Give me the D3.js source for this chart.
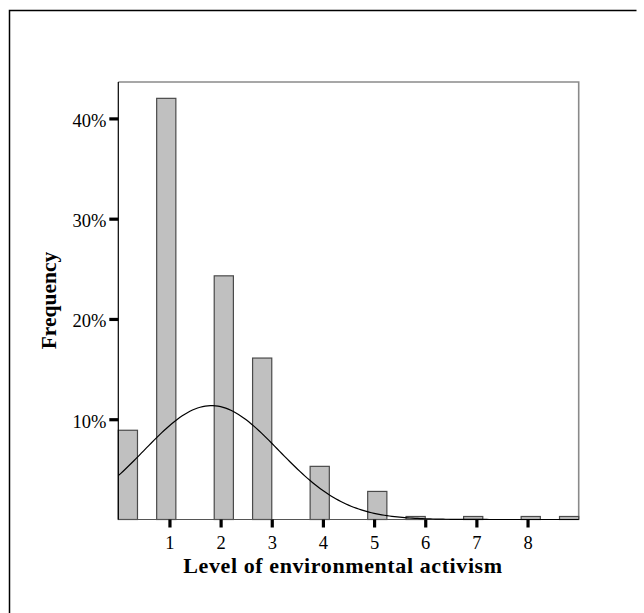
<!DOCTYPE html>
<html>
<head>
<meta charset="utf-8">
<script src="https://cdn.jsdelivr.net/npm/d3@7"></script>
<style>
  html, body { margin: 0; padding: 0; background: #fff; }
  svg { display: block; }
  text { font-family: "Liberation Serif", "Times New Roman", serif; fill: #000; }
</style>
</head>
<body>
<svg id="chart" width="644" height="613"></svg>
<script>
// Level of environmental activism (0-9) and share of respondents (%)
const levels   = [0, 1, 2, 3, 4, 5, 6, 7, 8, 9];
const percents = [8.9, 42.0, 24.3, 16.1, 5.3, 2.8, 0.3, 0.3, 0.3, 0.3];
// Histogram bins: lower edge of the bin holding each level, common bin width
const binLow   = [0, 0.75, 1.875, 2.625, 3.75, 4.875, 5.625, 6.75, 7.875, 8.625];
const binWidth = 0.375;
const xTicks   = [1, 2, 3, 4, 5, 6, 7, 8];
const yTicks   = [10, 20, 30, 40];

const svg = d3.select("#chart");

const plot = { left: 118.3, right: 578.7, top: 82, bottom: 519.5 };

const x = d3.scaleLinear().domain([0, 9]).range([plot.left, plot.right]);
const y = d3.scaleLinear().domain([0, 40]).range([plot.bottom, 118.4]);

// outer frame (top and left edges)
svg.append("path")
  .attr("d", `M9.5,613 V10.5 H636.5`)
  .attr("fill", "none").attr("stroke", "#000").attr("stroke-width", 1.5);

// plot frame (top and right in grey)
svg.append("path")
  .attr("d", `M${plot.left},${plot.top} H${plot.right} V${plot.bottom}`)
  .attr("fill", "none").attr("stroke", "#8a8a8a").attr("stroke-width", 1.6);

// bars
const bars = levels.map((lv, i) => ({ lv, pct: percents[i], x0: binLow[i], x1: binLow[i] + binWidth }));
svg.append("g").selectAll("rect").data(bars).join("rect")
  .attr("x", d => x(d.x0))
  .attr("y", d => y(d.pct))
  .attr("width", d => x(d.x1) - x(d.x0))
  .attr("height", d => y(0) - y(d.pct))
  .attr("fill", "#c0c0c0")
  .attr("stroke", "#4a4a4a")
  .attr("stroke-width", 1.2);

// baseline
svg.append("line")
  .attr("x1", plot.left).attr("x2", plot.right)
  .attr("y1", plot.bottom).attr("y2", plot.bottom)
  .attr("stroke", "#555").attr("stroke-width", 1.2);

// fitted normal curve from the sample mean and standard deviation
const total = d3.sum(percents);
const mean = d3.sum(levels, (v, i) => v * percents[i]) / total;
const sd = Math.sqrt(d3.sum(levels, (v, i) => (v - mean) ** 2 * percents[i]) / total);
const density = v => binWidth * 100 * Math.exp(-((v - mean) ** 2) / (2 * sd * sd)) / (sd * Math.sqrt(2 * Math.PI));
const curveX = d3.range(0, 9.0001, 0.05);
svg.append("path")
  .datum(curveX)
  .attr("d", d3.line().x(v => x(v)).y(v => y(density(v))))
  .attr("fill", "none").attr("stroke", "#000").attr("stroke-width", 1.2);

// y axis
const yAxis = svg.append("g")
  .attr("transform", `translate(${plot.left},0)`)
  .call(d3.axisLeft(y).tickValues(yTicks).tickSize(9).tickPadding(3).tickFormat(d => d + "%"));
yAxis.select(".domain").remove();
svg.append("line")
  .attr("x1", plot.left).attr("x2", plot.left)
  .attr("y1", plot.top).attr("y2", plot.bottom)
  .attr("stroke", "#000").attr("stroke-width", 1.2);
yAxis.selectAll(".tick line").attr("stroke", "#000").attr("stroke-width", 3.2);
yAxis.selectAll(".tick text")
  .style("font-family", "'Liberation Serif', 'Times New Roman', serif")
  .style("font-size", "18.5px").attr("dy", "0.42em");

// x axis
const xAxis = svg.append("g")
  .attr("transform", `translate(0,${plot.bottom})`)
  .call(d3.axisBottom(x).tickValues(xTicks).tickSize(8).tickPadding(8).tickFormat(d3.format("d")));
xAxis.select(".domain").remove();
xAxis.selectAll(".tick line").attr("stroke", "#000").attr("stroke-width", 3.2);
xAxis.selectAll(".tick text")
  .style("font-family", "'Liberation Serif', 'Times New Roman', serif")
  .style("font-size", "18.5px");

// axis titles
svg.append("text")
  .attr("x", 343).attr("y", 573)
  .attr("text-anchor", "middle")
  .style("font-size", "22px").style("font-weight", "bold").style("letter-spacing", "0.6px")
  .text("Level of environmental activism");

svg.append("text")
  .attr("transform", `translate(56,300.5) rotate(-90)`)
  .attr("text-anchor", "middle")
  .style("font-size", "21.5px").style("font-weight", "bold")
  .text("Frequency");
</script>
</body>
</html>
